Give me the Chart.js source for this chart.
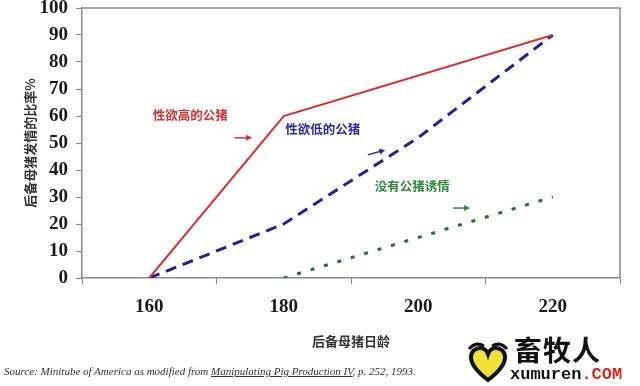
<!DOCTYPE html>
<html>
<head>
<meta charset="utf-8">
<script src="https://cdn.jsdelivr.net/npm/chart.js@4/dist/chart.umd.min.js"></script>
<style>
  html, body { margin: 0; padding: 0; background: #fff; }
  #wrap { position: relative; width: 640px; height: 386px; overflow: hidden; background: #fff; }
  #c { position: absolute; left: 0; top: 0; }
  #source { position: absolute; left: 4px; top: 365px; font: italic 11px "Liberation Serif", serif; color: #333; white-space: nowrap; }
  #source u { text-decoration: underline; }
  #logo { position: absolute; left: 466px; top: 340px; width: 44px; height: 44px; }
  #brand { position: absolute; left: 514px; top: 333px; font: bold 28px "Noto Sans CJK SC", sans-serif; color: #111; letter-spacing: 1px; line-height: 32px; }
  #site { position: absolute; left: 510px; top: 366px; font: bold 17px "Liberation Mono", monospace; color: #111; line-height: 18px; }
  #site span { color: #d8261f; }
</style>
</head>
<body>
<div id="wrap">
  <canvas id="c" width="640" height="386"></canvas>
  <div id="source">Source: Minitube of America as modified from <u>Manipulating Pig Production IV</u>, p. 252, 1993.</div>
  <svg id="logo" viewBox="0 0 44 44">
    <path d="M22 40 C10 31 5 24 5 17 C5 11 10 8 14 8 C18 8 21 11 22 14 C23 11 26 8 30 8 C34 8 39 11 39 17 C39 24 34 31 22 40 Z" fill="#f1e23a" stroke="#111" stroke-width="4"/>
    <path d="M3 9 Q10 1 18 6" fill="none" stroke="#111" stroke-width="3"/>
    <path d="M26 6 Q34 1 41 9" fill="none" stroke="#111" stroke-width="3"/>
  </svg>
  <div id="brand">畜牧人</div>
  <div id="site">xumuren<span>.COM</span></div>
</div>
<script>
// ---- data ----
const xTickLabels = [160, 180, 200, 220];          // 后备母猪日龄
const highBoarAge = [160, 180, 220];
const highBoarPct = [0, 60, 90];                   // 性欲高的公猪
const lowBoarAge  = [160, 180, 200, 220];
const lowBoarPct  = [0, 20, 52, 90];               // 性欲低的公猪
const noBoarAge   = [180, 220];
const noBoarPct   = [0, 30];                       // 没有公猪诱情
const seriesNames = ['性欲高的公猪', '性欲低的公猪', '没有公猪诱情'];

const toPoints = (xs, ys) => xs.map((x, i) => ({ x: x, y: ys[i] }));

// annotation layout (label + arrow, in axis units)
const notes = [
  { text: seriesNames[0], color: '#d63030', x: 166.1, y: 60.4, ax: [172.7, 175.3], ay: [51.9, 51.9] },
  { text: seriesNames[1], color: '#2a2a9c', x: 185.8, y: 55.2, ax: [192.5, 195.1], ay: [45.6, 47.4] },
  { text: seriesNames[2], color: '#2f8a3a', x: 199.1, y: 34.1, ax: [205.2, 207.7], ay: [25.9, 25.9] }
];

const annotPlugin = {
  id: 'annot',
  afterDatasetsDraw(chart) {
    const { ctx, chartArea: a, scales: { x, y } } = chart;
    ctx.save();
    // plot border (top & right sides)
    ctx.strokeStyle = '#8a8a8a';
    ctx.lineWidth = 1.5;
    ctx.beginPath();
    ctx.moveTo(a.left, a.top); ctx.lineTo(a.right, a.top); ctx.lineTo(a.right, a.bottom);
    ctx.stroke();
    ctx.font = 'bold 12.5px "Noto Sans CJK SC", sans-serif';
    ctx.textAlign = 'center';
    ctx.textBaseline = 'middle';
    notes.forEach(n => {
      ctx.fillStyle = n.color;
      ctx.fillText(n.text, x.getPixelForValue(n.x), y.getPixelForValue(n.y));
      const x1 = x.getPixelForValue(n.ax[0]), y1 = y.getPixelForValue(n.ay[0]);
      const x2 = x.getPixelForValue(n.ax[1]), y2 = y.getPixelForValue(n.ay[1]);
      ctx.strokeStyle = n.color;
      ctx.lineWidth = 1.5;
      ctx.beginPath(); ctx.moveTo(x1, y1); ctx.lineTo(x2 - 3, y2 + (y1 - y2) * 3 / Math.max(1, Math.hypot(x2 - x1, y2 - y1))); ctx.stroke();
      const ang = Math.atan2(y2 - y1, x2 - x1);
      ctx.beginPath();
      ctx.moveTo(x2, y2);
      ctx.lineTo(x2 - 6 * Math.cos(ang) + 3 * Math.sin(ang), y2 - 6 * Math.sin(ang) - 3 * Math.cos(ang));
      ctx.lineTo(x2 - 6 * Math.cos(ang) - 3 * Math.sin(ang), y2 - 6 * Math.sin(ang) + 3 * Math.cos(ang));
      ctx.closePath(); ctx.fill();
    });
    ctx.restore();
  }
};

const zeroPad = s => { s.paddingTop = 0; s.paddingBottom = 0; s.paddingLeft = 0; s.paddingRight = 0; };

new Chart(document.getElementById('c'), {
  type: 'line',
  data: {
    datasets: [
      { label: seriesNames[0], data: toPoints(highBoarAge, highBoarPct), borderColor: '#dc2f2f', borderWidth: 2, pointRadius: 0, tension: 0, fill: false },
      { label: seriesNames[1], data: toPoints(lowBoarAge, lowBoarPct), borderColor: '#22229a', borderWidth: 3, borderDash: [11, 7], pointRadius: 0, tension: 0, fill: false },
      { label: seriesNames[2], data: toPoints(noBoarAge, noBoarPct), borderColor: '#2c6e2c', borderWidth: 3, borderDash: [4, 10], pointRadius: 0, tension: 0, fill: false }
    ]
  },
  options: {
    responsive: false,
    animation: false,
    devicePixelRatio: 1,
    layout: { padding: { left: 0, right: 20, top: 8, bottom: 0 } },
    plugins: { legend: { display: false }, tooltip: { enabled: false } },
    scales: {
      x: {
        type: 'linear', min: 150, max: 230,
        afterFit: s => { s.height = 108; zeroPad(s); },
        afterBuildTicks: s => { s.ticks = []; for (let v = 150; v <= 230; v += 10) s.ticks.push({ value: v }); },
        ticks: {
          autoSkip: false, maxRotation: 0, padding: 12,
          color: '#1a1a1a',
          font: { family: '"Liberation Serif", serif', size: 19, weight: 'bold' },
          callback: v => xTickLabels.includes(v) ? String(v) : ''
        },
        grid: {
          drawOnChartArea: false, drawTicks: true, tickLength: 6, tickWidth: 1.2,
          tickColor: c => (c.tick && xTickLabels.includes(c.tick.value)) ? 'rgba(0,0,0,0)' : '#8a8a8a'
        },
        border: { display: true, color: '#8a8a8a', width: 1.5 },
        title: { display: true, text: '后备母猪日龄', color: '#333', font: { family: '"Noto Sans CJK SC", sans-serif', size: 13, weight: 'bold' }, padding: { top: 0, bottom: 37 } }
      },
      y: {
        type: 'linear', min: 0, max: 100,
        afterFit: s => { s.width = 82; zeroPad(s); },
        ticks: {
          stepSize: 10, padding: 8, color: '#1a1a1a',
          font: { family: '"Liberation Serif", serif', size: 19, weight: 'bold' }
        },
        grid: { drawOnChartArea: false, drawTicks: true, tickLength: 6, tickWidth: 1.2, tickColor: '#8a8a8a' },
        border: { display: true, color: '#8a8a8a', width: 1.5 },
        title: { display: true, text: '后备母猪发情的比率%', color: '#333', font: { family: '"Noto Sans CJK SC", sans-serif', size: 13, weight: 'bold' }, padding: { top: 22, bottom: 0 } }
      }
    }
  },
  plugins: [annotPlugin]
});
</script>
</body>
</html>
